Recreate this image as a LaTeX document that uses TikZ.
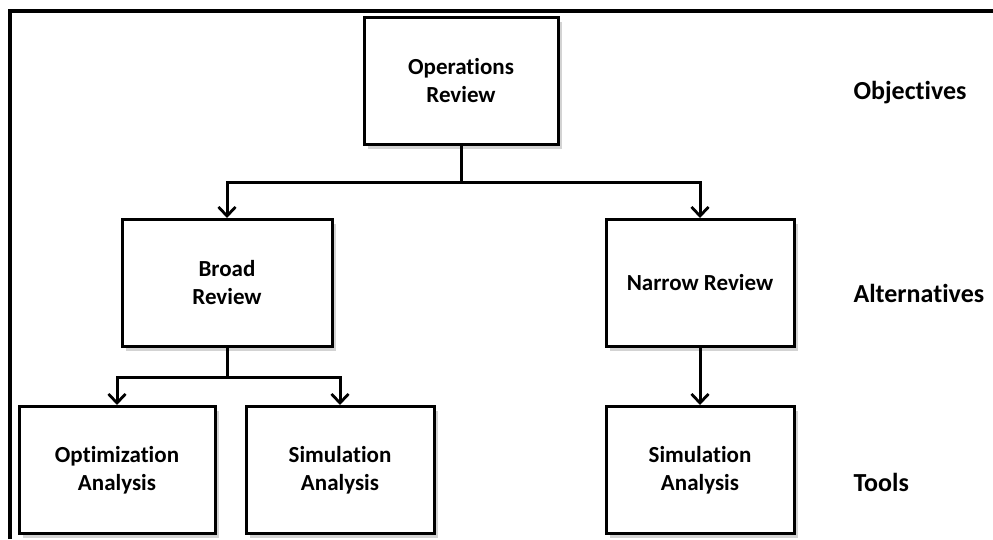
\documentclass[tikz,border=0pt]{standalone}
\usepackage{fontspec}
\setmainfont{Carlito}[Ligatures=NoCommon]
\usetikzlibrary{arrows.meta,shadows}

\begin{document}
\begin{tikzpicture}[x=1pt,y=-1pt]

\tikzset{
  levelbox/.style={draw=black, line width=3pt, fill=white, minimum width=194pt,
    minimum height=127pt, align=center, font=\fontsize{23}{28}\selectfont\bfseries,
    drop shadow={shadow xshift=4pt, shadow yshift=-4pt, opacity=0.35}},
  levellabel/.style={anchor=west, font=\fontsize{26}{30}\selectfont\bfseries},
  conn/.style={line width=3pt, draw=black},
  arr/.style={conn, -{Straight Barb[length=9pt,width=17pt,line width=2.8pt]}}
}

\useasboundingbox (0,0) rectangle (993,539);
\draw[line width=3.2pt] (10,539) |- (993,11);

\node[levelbox] (ops) at (461,81) {Operations\\Review};
\node[levelbox, minimum width=210pt] (broad) at (227,283) {Broad\\Review};
\node[levelbox, minimum width=188pt] (narrow) at (700,283) {Narrow Review};
\node[levelbox, minimum width=196pt] (optim) at (117,470) {Optimization\\Analysis};
\node[levelbox, minimum width=188pt] (simA) at (340,470) {Simulation\\Analysis};
\node[levelbox, minimum width=188pt] (simB) at (700,470) {Simulation\\Analysis};

\node[levellabel] (obj) at (850,93) {Objectives};
\node[levellabel] (alt) at (850,293) {Alternatives};
\node[levellabel] (tools) at (850,482) {Tools};

\coordinate (splitA) at (461,182);
\coordinate (splitB) at (227,377);

\draw[conn] (ops.south) -- (splitA);
\draw[arr] (splitA) -| (broad.north);
\draw[arr] (splitA) -| (narrow.north);
\draw[conn] (broad.south) -- (splitB);
\draw[arr] (splitB) -| (optim.north);
\draw[arr] (splitB) -| (simA.north);
\draw[arr] (narrow.south) -- (simB.north);

\end{tikzpicture}
\end{document}
